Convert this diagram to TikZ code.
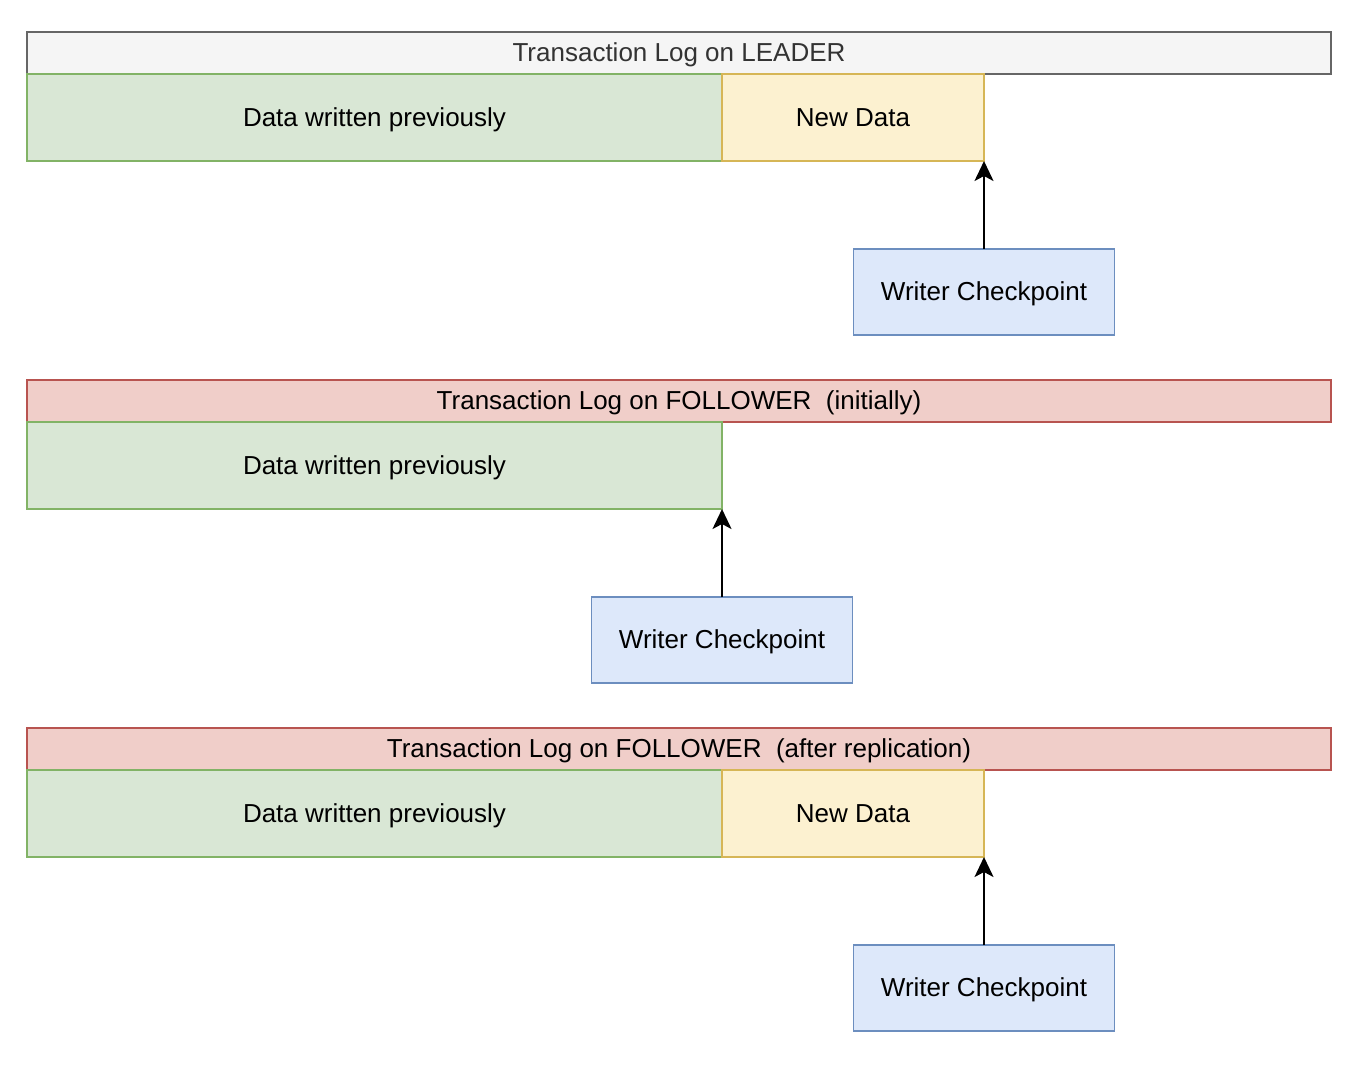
\documentclass[tikz,border=0pt]{standalone}
\usepackage{fontspec}
\setmainfont{Liberation Sans}
\usetikzlibrary{positioning,arrows.meta}

\definecolor{titlefill}{HTML}{F5F5F5}
\definecolor{titledraw}{HTML}{666666}
\definecolor{titletext}{HTML}{333333}
\definecolor{followfill}{HTML}{F0CEC9}
\definecolor{followdraw}{HTML}{B85450}
\definecolor{oldfill}{HTML}{D9E7D5}
\definecolor{olddraw}{HTML}{82B366}
\definecolor{newfill}{HTML}{FCF1D0}
\definecolor{newdraw}{HTML}{D6B656}
\definecolor{cpfill}{HTML}{DDE8FA}
\definecolor{cpdraw}{HTML}{6C8EBF}

\begin{document}
\begin{tikzpicture}[
x=0.5pt, y=-0.5pt,
font=\fontsize{13}{15}\selectfont,
block/.style={
	rectangle, draw, line width=0.9pt,
	inner sep=0pt, outer sep=0pt, text=black,
	text height=10.4pt, text depth=1.6pt
},
logtitle/.style={block, anchor=north west,
	minimum width=652pt, minimum height=21pt},
leadertitle/.style={logtitle, fill=titlefill, draw=titledraw, text=titletext},
followtitle/.style={logtitle, fill=followfill, draw=followdraw},
olddata/.style={block, fill=oldfill, draw=olddraw,
	minimum width=347.5pt, minimum height=43.5pt},
newdata/.style={block, fill=newfill, draw=newdraw,
	minimum width=131pt, minimum height=43.5pt},
checkpoint/.style={block, fill=cpfill, draw=cpdraw,
	minimum width=130.5pt, minimum height=43pt},
pointer/.style={-{Stealth[length=10pt, width=9.5pt, inset=2.5pt]}, line width=1pt}
]
\useasboundingbox (0,0) rectangle (1359,1073);

% leader
\node[leadertitle] (title1) at (27,32) {Transaction Log on LEADER};
\node[olddata, below right=0pt of title1.south west] (old1) {Data written previously};
\node[newdata, right=0pt of old1] (new1) {New Data};
\node[checkpoint, below=44pt of new1.south east] (cp1) {Writer Checkpoint};
\draw[pointer] (cp1) -- (new1.south east);

% follower, initially
\node[followtitle] (title2) at (27,380) {Transaction Log on FOLLOWER\ \ (initially)};
\node[olddata, below right=0pt of title2.south west] (old2) {Data written previously};
\node[checkpoint, below=44pt of old2.south east] (cp2) {Writer Checkpoint};
\draw[pointer] (cp2) -- (old2.south east);

% follower, after replication
\node[followtitle] (title3) at (27,728) {Transaction Log on FOLLOWER\ \ (after replication)};
\node[olddata, below right=0pt of title3.south west] (old3) {Data written previously};
\node[newdata, right=0pt of old3] (new3) {New Data};
\node[checkpoint, below=44pt of new3.south east] (cp3) {Writer Checkpoint};
\draw[pointer] (cp3) -- (new3.south east);
\end{tikzpicture}
\end{document}
